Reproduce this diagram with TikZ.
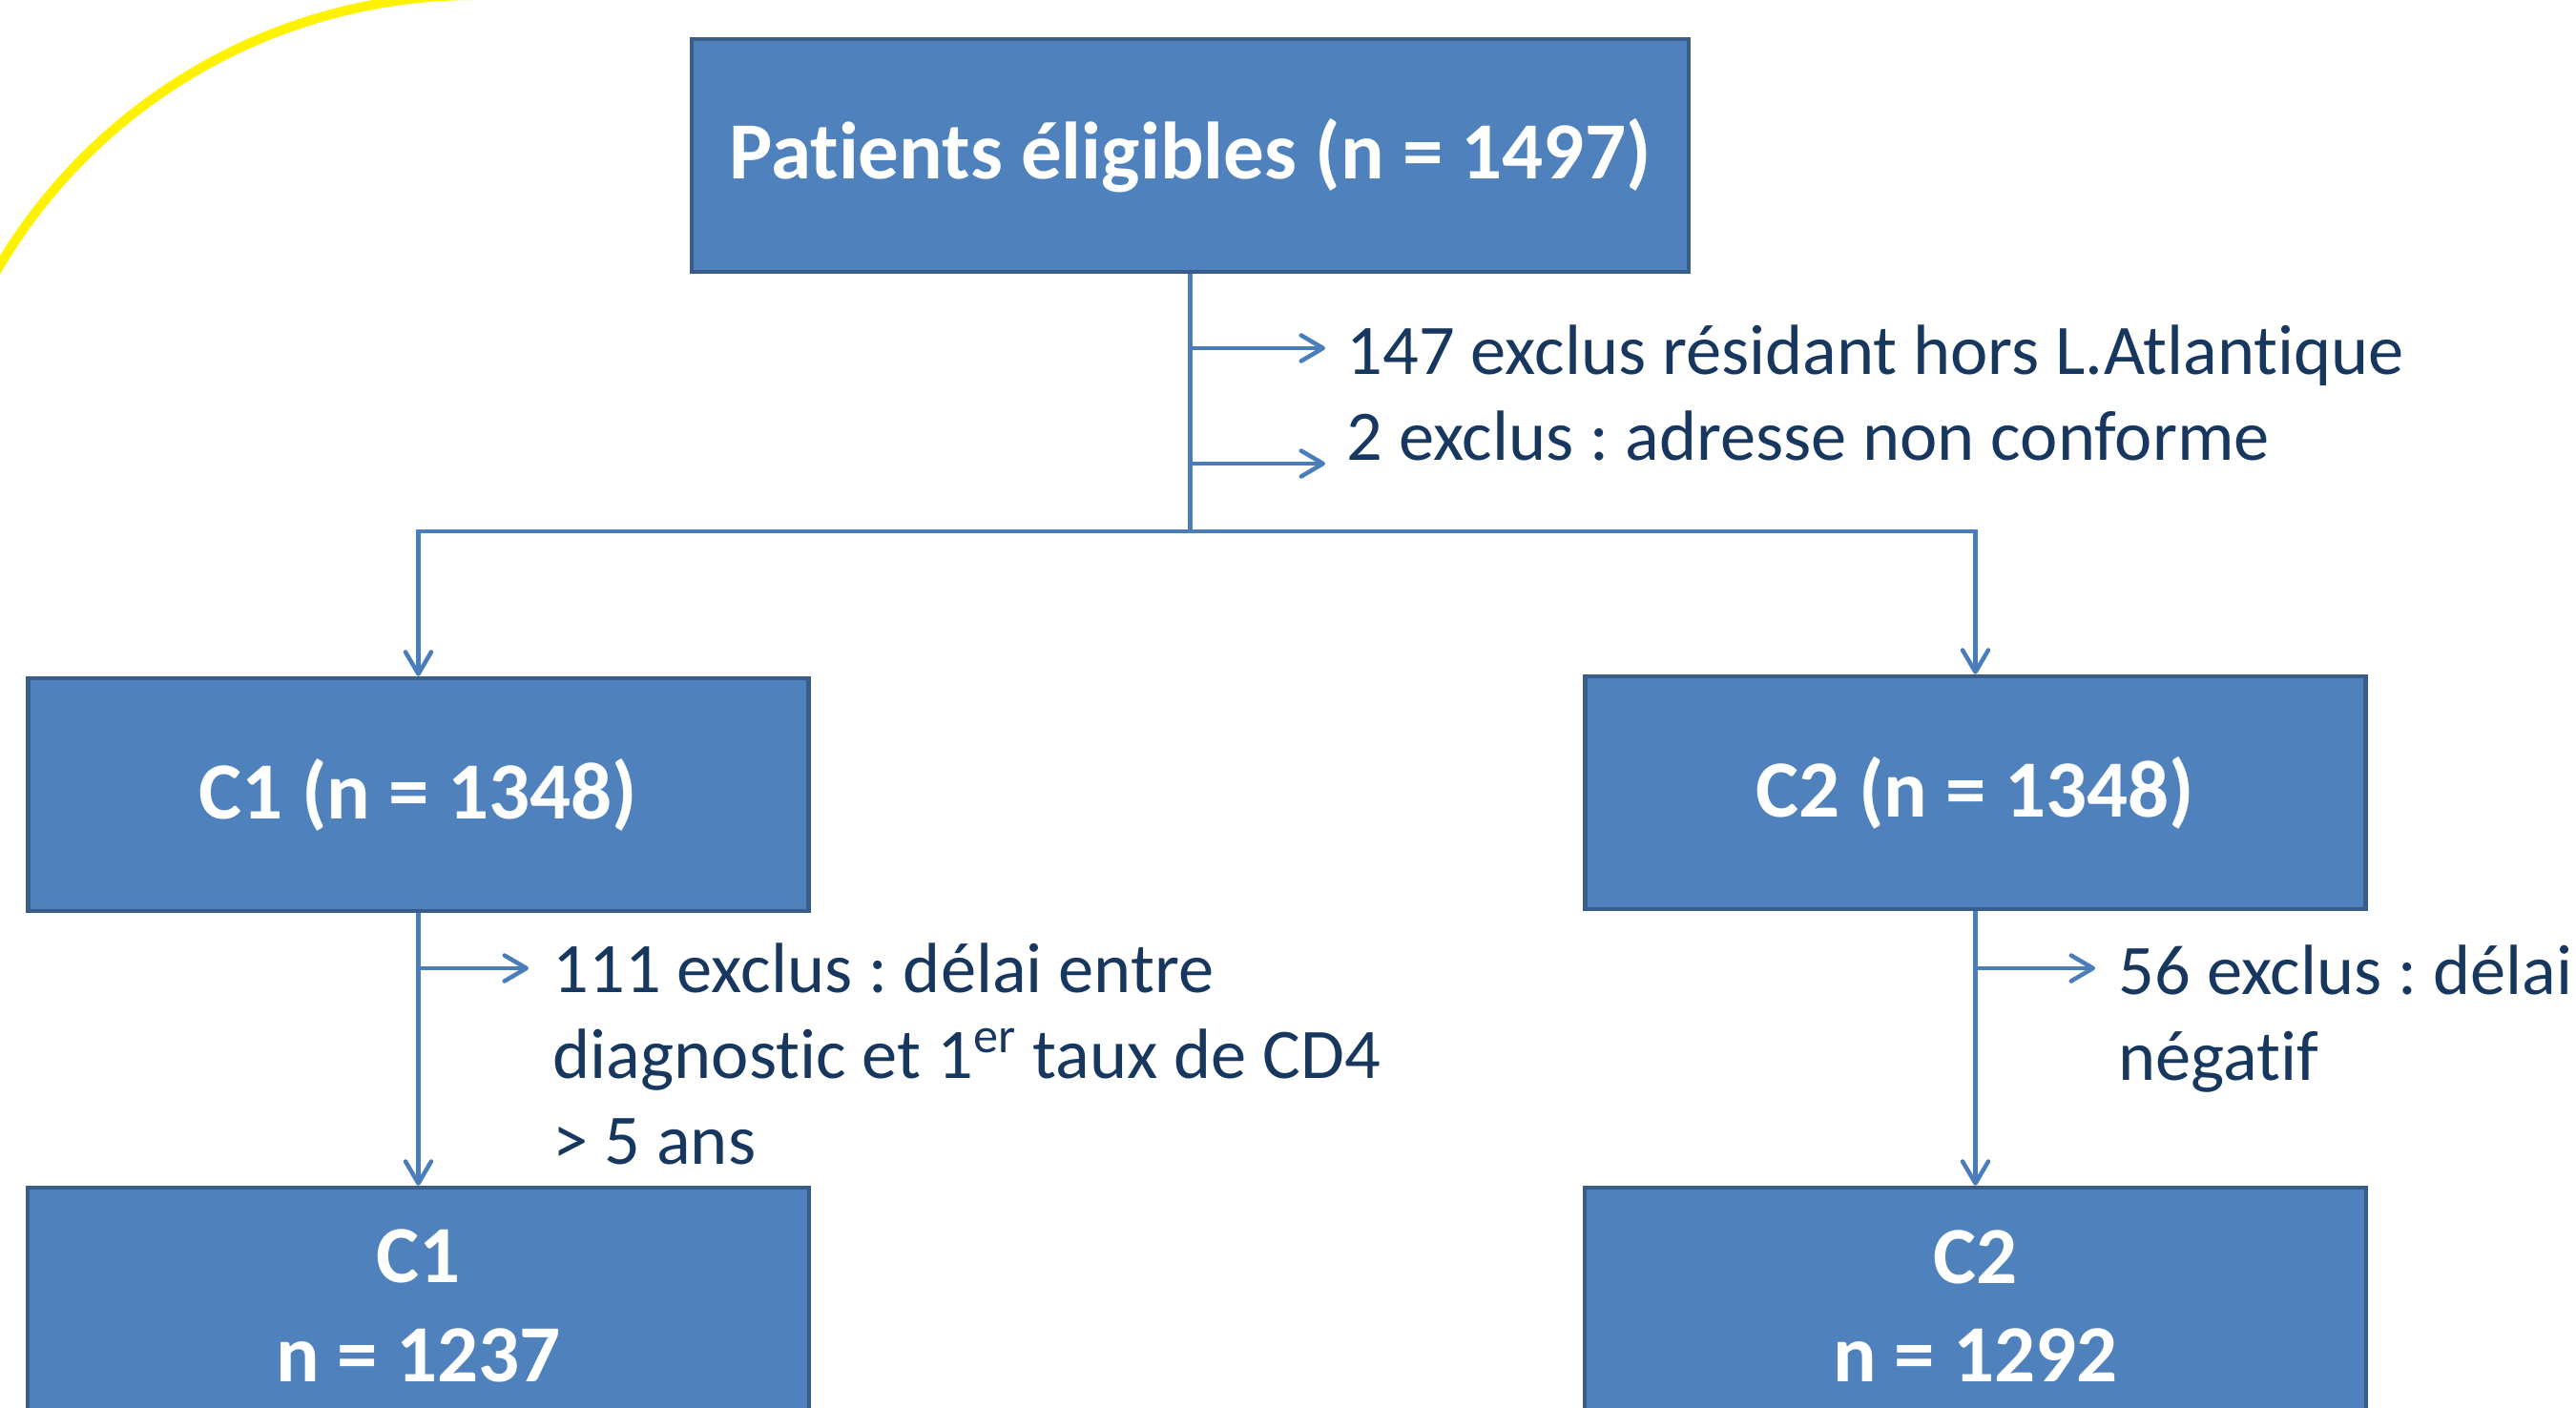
\documentclass[tikz,border=0pt]{standalone}
\usepackage{fontspec}
\setmainfont{Carlito}[Ligatures=NoCommon]
\frenchspacing
\usetikzlibrary{arrows.meta}
\definecolor{boxblue}{HTML}{4F81BD}
\definecolor{boxedge}{HTML}{385D8A}
\definecolor{linkblue}{HTML}{4A7EBB}
\definecolor{textnavy}{HTML}{17375E}
\begin{document}
\begin{tikzpicture}[
  box/.style={rectangle,draw=boxedge,fill=boxblue,line width=0.045cm,inner sep=0pt,
    text=white,align=center,font=\fontsize{24.2}{29.5}\selectfont\bfseries},
  note/.style={anchor=base west,inner sep=0pt,text=textnavy,align=left,
    font=\fontsize{21.2}{25.5}\selectfont},
  link/.style={draw=linkblue,line width=0.045cm},
  arr/.style={link,-{Straight Barb[length=2.3mm,width=2.7mm,round]}}]
\useasboundingbox (0,0) rectangle (27,-14.76);
\clip (0,0) rectangle (27,-14.76);
% yellow arc in the corner
\draw[yellow,line width=0.1cm] (4.98,-5.75) ++(155:5.80) arc[start angle=155,end angle=90,radius=5.80];
% boxes
\node[box,minimum width=10.45cm,minimum height=2.44cm] (elig) at (12.475,-1.63) {Patients éligibles (n = 1497)};
\node[box,minimum width=8.18cm,minimum height=2.44cm] (c1) at (4.385,-8.33) {C1 (n = 1348)};
\node[box,minimum width=8.18cm,minimum height=2.44cm] (c2) at (20.705,-8.31) {C2 (n = 1348)};
\node[box,minimum width=8.19cm,minimum height=2.48cm] (c1f) at (4.385,-13.69) {C1\\n = 1237};
\node[box,minimum width=8.19cm,minimum height=2.48cm] (c2f) at (20.705,-13.69) {C2\\n = 1292};
% exclusions (base = last line)
\node[note] (ex1) at (14.11,-3.93) {147 exclus résidant hors L.Atlantique};
\node[note] (ex2) at (14.11,-4.83) {2 exclus : adresse non conforme};
\node[note] (ex3) at (5.79,-12.20) {111 exclus : délai entre\\diagnostic et 1\textsuperscript{er} taux de CD4\\> 5 ans};
\node[note] (ex4) at (22.20,-11.32) {56 exclus : délai\\négatif};
\coordinate (split) at (12.475,-5.57);
\coordinate (t1) at (13.89,-3.65);
\coordinate (t2) at (13.89,-4.86);
\coordinate (t3) at (5.54,-10.15);
\coordinate (t4) at (21.96,-10.15);
% connectors
\draw[link] (elig.south) -- (split);
\draw[arr] (elig.south |- t1) -- (t1);
\draw[arr] (elig.south |- t2) -- (t2);
\draw[arr] (split) -| (c1.north);
\draw[arr] (split) -| (c2.north);
\draw[arr] (c1.south) -- (c1f.north);
\draw[arr] (c2.south) -- (c2f.north);
\draw[arr] (c1.south |- t3) -- (t3);
\draw[arr] (c2.south |- t4) -- (t4);
\end{tikzpicture}
\end{document}
